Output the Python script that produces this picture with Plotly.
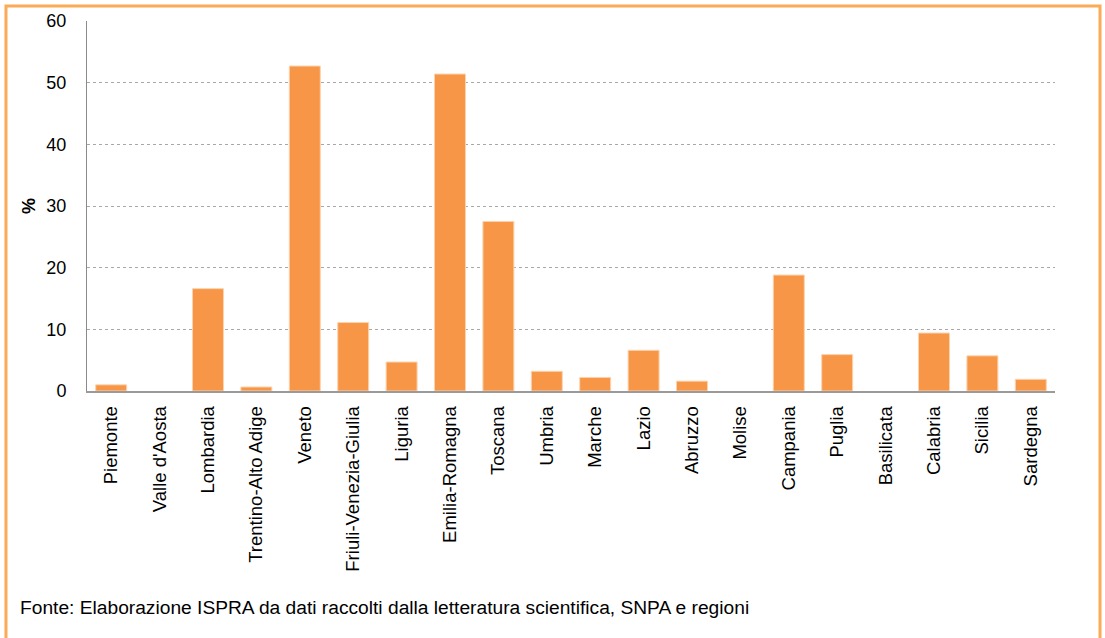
import plotly.graph_objects as go

# Regional shares (%)
regioni = [
    "Piemonte", "Valle d'Aosta", "Lombardia", "Trentino-Alto Adige", "Veneto",
    "Friuli-Venezia-Giulia", "Liguria", "Emilia-Romagna", "Toscana", "Umbria",
    "Marche", "Lazio", "Abruzzo", "Molise", "Campania", "Puglia", "Basilicata",
    "Calabria", "Sicilia", "Sardegna",
]
percentuali = [
    1.0, 0.0, 16.6, 0.65, 52.7,
    11.1, 4.7, 51.4, 27.5, 3.2,
    2.2, 6.6, 1.6, 0.0, 18.8, 5.9, 0.0,
    9.4, 5.7, 1.9,
]
y_ticks = [0, 10, 20, 30, 40, 50, 60]

fonte = "Fonte: Elaborazione ISPRA da dati raccolti dalla letteratura scientifica, SNPA e regioni"

BAR = "#F79646"
FRAME = "#FBAA55"
FONT = "Liberation Sans, Arial, sans-serif"

# no outline on empty bars
outline = [1 if v > 0 else 0 for v in percentuali]

fig = go.Figure(
    go.Bar(
        x=regioni,
        y=percentuali,
        marker=dict(color=BAR, line=dict(color="#FCD3AE", width=outline)),
        width=0.64,
    )
)

fig.update_layout(
    width=1105,
    height=638,
    margin=dict(l=87, r=50, t=21, b=247),
    paper_bgcolor="white",
    plot_bgcolor="white",
    showlegend=False,
    font=dict(family=FONT, color="#000000"),
    xaxis=dict(
        type="category",
        tickangle=-90,
        tickfont=dict(size=18.5, family=FONT),
        showline=True,
        linecolor="#9a9a9a",
        linewidth=1.5,
        ticks="",
        showgrid=False,
        ticklabelstandoff=6,
    ),
    yaxis=dict(
        range=[0, 60],
        tickvals=y_ticks,
        ticktext=[str(v) for v in y_ticks],
        tickfont=dict(size=18, family=FONT),
        showline=True,
        linecolor="#8a8a8a",
        linewidth=1,
        ticks="",
        showgrid=True,
        gridcolor="#a8a8a8",
        griddash="dot",
        gridwidth=1,
        zeroline=False,
        ticklabelstandoff=16,
        title=dict(text="<b>%</b>", font=dict(size=18, family=FONT), standoff=6),
    ),
    shapes=[
        dict(
            type="rect", xref="paper", yref="paper",
            x0=-0.0837, x1=1.0465, y0=-0.72, y1=1.0405,
            line=dict(color=FRAME, width=3), layer="above",
        )
    ],
    annotations=[
        dict(
            text=fonte, xref="paper", yref="paper",
            x=-0.0713, y=-0.584, xanchor="left", yanchor="middle",
            showarrow=False,
            font=dict(size=19.2, family="Liberation Sans Narrow, Arial Narrow, sans-serif", color="#000000"),
        )
    ],
)

fig.write_html("out.html")
